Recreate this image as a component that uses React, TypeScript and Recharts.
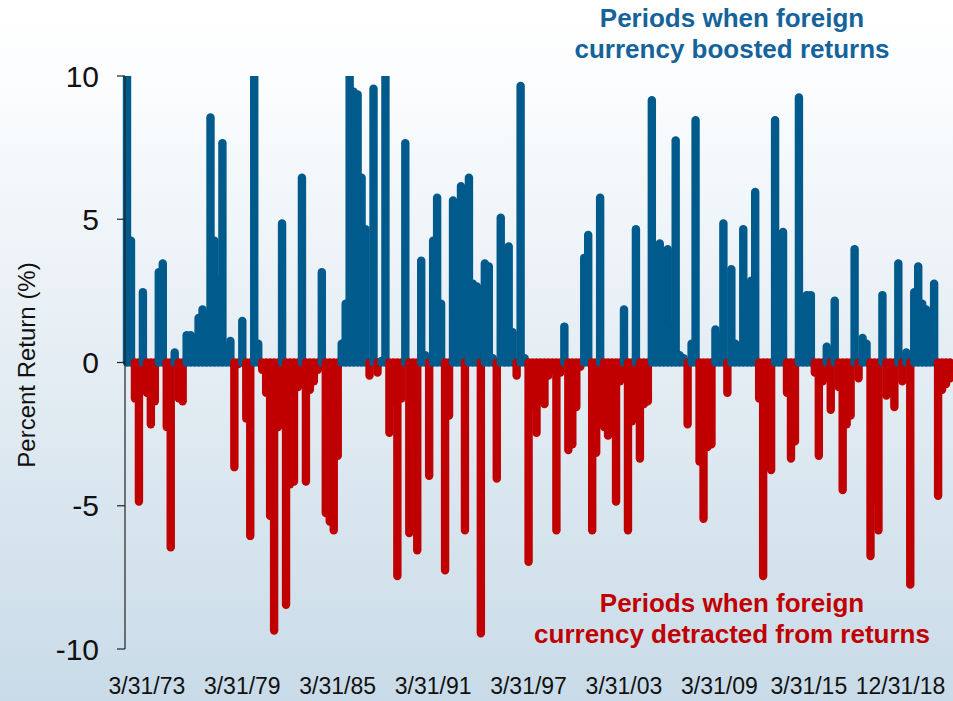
import React from 'react';
import { BarChart, Bar, XAxis, YAxis } from 'recharts';

// Quarterly currency contribution to returns (%), starting 12/31/71
const returns: number[] = [
  11, 4.4, -1.4, -5.0, 2.6, -1.2, -2.3, -1.5, 3.3, 3.6,
  -2.4, -6.6, 0.5, -1.4, -1.5, 1.1, 1.1, 1.0, 1.7, 2.0,
  1.8, 8.7, 4.4, 3.0, 7.8, 0.6, 0.9, -3.8, -0.2, 1.6,
  -2.1, -6.2, 11, 0.8, -0.4, -1.2, -5.5, -9.5, -2.4, 5.0,
  -8.6, -4.4, -4.3, -1.0, 6.6, -4.3, -1.1, -0.8, -0.4, 3.3,
  -5.4, -5.7, -6.0, -3.4, 0.8, 2.2, 11, 9.6, 9.5, 6.6,
  4.8, -0.6, 9.7, -0.5, 0.2, 11, -2.6, -1.5, -7.6, -1.4,
  7.8, -6.1, -3.0, -6.7, 3.7, 0.4, -4.1, 4.4, 5.9, 2.2,
  -7.4, -2.0, 5.8, 3.0, 6.3, -6.0, 6.6, 2.9, 2.8, -9.6,
  3.6, 3.5, 0.3, -4.2, 5.2, 4.0, 4.2, 1.2, -0.6, 9.8,
  0.3, -7.1, -1.7, -2.6, -1.5, -1.6, -0.6, -0.4, -6.0, -0.5,
  1.4, -3.2, -3.0, -1.7, -0.3, 3.8, 4.6, -6.0, -3.3, 5.9,
  -2.4, -2.7, -2.4, -5.0, -0.8, 2.0, -6.0, -2.2, 4.8, -3.5,
  -1.6, -1.5, 9.3, 4.0, 4.3, 3.0, 4.1, 1.4, 7.9, 0.4,
  0.3, -2.3, 0.8, 8.6, -3.6, -5.6, -3.1, -3.0, 1.3, 1.0,
  5.0, -1.2, 3.4, 0.8, 0.6, 4.8, 1.4, 3.0, 6.1, -1.4,
  -7.6, -1.6, -3.9, 8.6, 4.0, 4.7, -1.2, -3.5, -2.9, 9.4,
  2.0, 2.5, 2.5, -0.5, -3.4, -0.8, 0.7, -1.8, 2.3, -1.0,
  -4.6, -2.3, -2.0, 4.1, -0.7, 1.0, 0.8, -6.9, -5.0, -6.0,
  2.5, -1.3, -1.2, -1.7, 3.6, -0.8, 0.5, -7.9, 2.6, 3.5,
  2.2, 2.0, 1.5, 2.9, -4.8, -1.1, -0.9, -0.7,
];

const QUARTER_ENDS = ['3/31', '6/30', '9/30', '12/31'];
const FIRST_QUARTER_INDEX = 3; // Q4 of 1971
const FIRST_YEAR = 1971;
const quarters: string[] = returns.map((_, i) => {
  const q = FIRST_QUARTER_INDEX + i;
  const yr = FIRST_YEAR + Math.floor(q / 4);
  return `${QUARTER_ENDS[q % 4]}/${String(yr % 100).padStart(2, '0')}`;
});

const tickLabels: string[] = [
  '3/31/73', '3/31/79', '3/31/85', '3/31/91', '3/31/97',
  '3/31/03', '3/31/09', '3/31/15', '12/31/18',
];
const yTicks: number[] = [-10, -5, 0, 5, 10];

const data = quarters.map((date, i) => ({ date, value: returns[i] }));

const BLUE = '#005a8c';
const RED = '#c00000';
const TITLE_BLUE = '#15639a';
const FONT = '"Liberation Sans", Arial, Helvetica, sans-serif';
const PLOT_TOP = 76;
const PLOT_BOTTOM = 649;
const tickSet = new Set(tickLabels);
// the last two date labels are spread apart in the original so they do not collide
const LABEL_NUDGE: Record<string, number> = { '3/31/15': -6, '12/31/18': 26 };

function CapsuleBar(props: any) {
  const { x, y, width, height, payload } = props;
  const v: number = payload.value;
  const cx = x + width / 2;
  let r = 4.2;
  const y1 = Math.min(y, y + height);
  const y2 = Math.max(y, y + height);
  let top: number;
  let bot: number;
  let flatTop = false;
  let flatBot = false;
  if (v >= 0) {
    top = y1;
    bot = y2 + r;
    if (top < PLOT_TOP) {
      top = PLOT_TOP;
      flatTop = true;
    }
  } else {
    top = y1 - r;
    bot = y2;
    if (bot > PLOT_BOTTOM) {
      bot = PLOT_BOTTOM;
      flatBot = true;
    }
  }
  if (bot - top < 2 * r) r = (bot - top) / 2;
  const left = cx - r;
  const right = cx + r;
  let d = '';
  if (flatTop) d += `M${left},${top} L${right},${top} `;
  else d += `M${left},${top + r} A${r},${r} 0 0 1 ${right},${top + r} `;
  if (flatBot) d += `L${right},${bot} L${left},${bot} Z`;
  else d += `L${right},${bot - r} A${r},${r} 0 0 1 ${left},${bot - r} Z`;
  return <path d={d} fill={v >= 0 ? BLUE : RED} />;
}

function XTick(props: any) {
  const { x, payload } = props;
  if (!tickSet.has(payload.value)) return <g />;
  const nudge = LABEL_NUDGE[payload.value] || 0;
  return (
    <text x={x + nudge} y={694} textAnchor="middle" fontSize={23} fontFamily={FONT} fill="#111">
      {payload.value}
    </text>
  );
}

export default function App() {
  return (
    <div
      style={{
        position: 'fixed',
        left: 0,
        top: 0,
        width: 953,
        height: 701,
        overflow: 'hidden',
        background: 'linear-gradient(180deg, #ffffff 0%, #fcfdfe 10%, #c9dbe8 100%)',
        fontFamily: FONT,
      }}
    >
      <BarChart
        width={953}
        height={701}
        data={data}
        margin={{ top: PLOT_TOP, right: 1, bottom: 0, left: 0 }}
        barCategoryGap={0}
        style={{ position: 'absolute', left: 0, top: 0 }}
      >
        <XAxis
          dataKey="date"
          interval={0}
          height={52}
          axisLine={false}
          tickLine={false}
          tick={<XTick />}
        />
        <YAxis
          width={125}
          domain={[-10, 10]}
          ticks={yTicks}
          allowDataOverflow
          axisLine={{ stroke: '#222', strokeWidth: 1.2 }}
          tickLine={{ stroke: '#222', strokeWidth: 1.2 }}
          tickSize={8}
          tickMargin={18}
          tick={{ fontSize: 30, fill: '#111', fontFamily: FONT }}
        />
        <Bar dataKey="value" isAnimationActive={false} shape={<CapsuleBar />} />
      </BarChart>
      <div
        style={{
          position: 'absolute',
          left: 27 - 160,
          top: 365 - 14,
          width: 320,
          height: 28,
          lineHeight: '28px',
          textAlign: 'center',
          fontSize: 24,
          color: '#111',
          transform: 'rotate(-90deg)',
          whiteSpace: 'nowrap',
        }}
      >
        Percent Return (%)
      </div>
      <div
        style={{
          position: 'absolute',
          left: 732 - 260,
          top: 3,
          width: 520,
          textAlign: 'center',
          fontSize: 26,
          lineHeight: '31px',
          fontWeight: 'bold',
          color: TITLE_BLUE,
        }}
      >
        Periods when foreign
        <br />
        currency boosted returns
      </div>
      <div
        style={{
          position: 'absolute',
          left: 732 - 260,
          top: 588,
          width: 520,
          textAlign: 'center',
          fontSize: 26,
          lineHeight: '31px',
          fontWeight: 'bold',
          color: RED,
        }}
      >
        Periods when foreign
        <br />
        currency detracted from returns
      </div>
    </div>
  );
}
